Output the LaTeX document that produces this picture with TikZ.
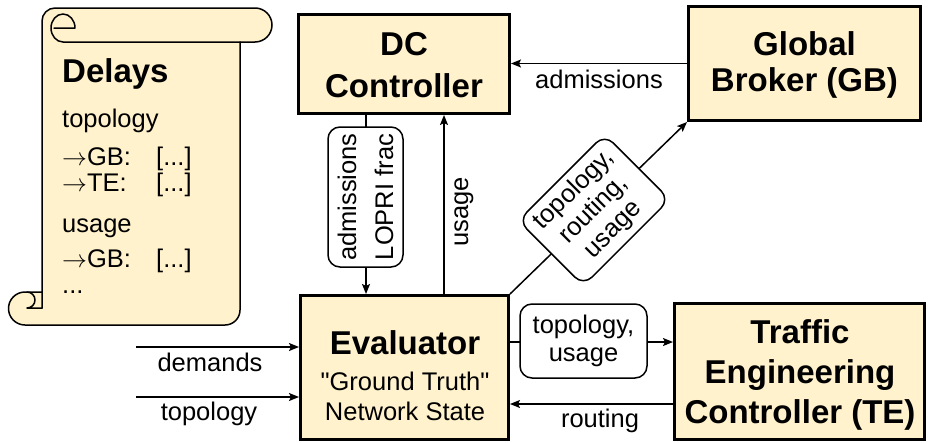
\documentclass[tikz,border=0pt]{standalone}
\usepackage{fontspec}
\setmainfont{Liberation Sans}
\newfontfamily\plainsans{Liberation Sans}
\usetikzlibrary{arrows.meta}
\definecolor{boxfill}{HTML}{FFF2CC}
\newcommand{\myarr}{\kern1pt$\rightarrow$}
\tikzset{
  big/.style={draw, line width=3pt, fill=boxfill, inner sep=0pt},
  ttl/.style={font=\fontsize{33}{38}\selectfont\bfseries, anchor=base, inner sep=0pt},
  txt/.style={font=\fontsize{25.5}{30}\selectfont, anchor=base, inner sep=0pt},
  conn/.style={line width=1.5pt, -{Stealth[length=10pt,width=8pt,inset=2pt]}},
  lbl/.style={draw, line width=1.5pt, fill=white, rounded corners=12pt, align=center, inner sep=0pt},
  scrollline/.style={line width=1.5pt, line join=round, line cap=round},
}
\begin{document}
\begin{tikzpicture}[x=1pt,y=-1pt]
\useasboundingbox (0,0) rectangle (928,442);

% ---------- scroll ----------
\fill[boxfill] (42,292) -- (42,21) arc[start angle=180, end angle=270, radius=13]
  -- (255,8) arc[start angle=270, end angle=450, radius=17]
  -- (240,42) -- (240,310) arc[start angle=0, end angle=90, radius=15]
  -- (25,325) arc[start angle=90, end angle=270, radius=16.5] -- cycle;
\draw[scrollline] (42,308) -- (42,21) arc[start angle=180, end angle=270, radius=13]
  -- (255,8) arc[start angle=270, end angle=450, radius=17]
  -- (240,42) -- (240,310) arc[start angle=0, end angle=90, radius=15]
  -- (25,325) arc[start angle=90, end angle=270, radius=16.5] -- (42,292);
\draw[scrollline] (54,28) -- (75,28) arc[start angle=0, end angle=-270, x radius=12, y radius=14] -- (240,42);
\draw[scrollline] (27,292) arc[start angle=270, end angle=450, radius=8] -- (42,308);

\node[ttl, anchor=base west] (dtitle) at (62,82) {Delays};
\node[txt, anchor=base west] (d1) at (62,127) {topology};
\node[txt, anchor=base west] (d2) at (61,165) {\myarr GB:};
\node[txt, anchor=base west] (d2b) at (156,165) {[...]};
\node[txt, anchor=base west] (d3) at (61,191) {\myarr TE:};
\node[txt, anchor=base west] (d3b) at (156,191) {[...]};
\node[txt, anchor=base west] (d4) at (62,232) {usage};
\node[txt, anchor=base west] (d5) at (61,267) {\myarr GB:};
\node[txt, anchor=base west] (d5b) at (156,267) {[...]};
\node[txt, anchor=base west] (d6) at (62,293) {...};

% ---------- boxes ----------
\node[big, minimum width=211pt, minimum height=99pt] (dc) at (404,64) {};
\node[big, minimum width=232pt, minimum height=114pt] (gb) at (804.5,63.5) {};
\node[big, minimum width=208pt, minimum height=144pt] (ev) at (404.5,367.5) {};
\node[big, minimum width=250pt, minimum height=136pt] (te) at (799.5,371.5) {};

\node[ttl] (dct1) at (404,55) {DC};
\node[ttl] (dct2) at (404,97) {Controller};
\node[ttl] (gbt1) at (804.5,55) {Global};
\node[ttl] (gbt2) at (804.5,91) {Broker (GB)};
\node[ttl] (evt1) at (405,354) {Evaluator};
\node[txt] (evt2) at (405,390) {\plainsans "Ground Truth"};
\node[txt] (evt3) at (405,420) {Network State};
\node[ttl] (tet1) at (800,343) {Traffic};
\node[ttl] (tet2) at (800,383) {Engineering};
\node[ttl] (tet3) at (800,423) {Controller (TE)};

% ---------- helper coordinates ----------
\coordinate (cx1) at (366,0);
\coordinate (cx2) at (444,0);
\coordinate (cy1) at (0,342);
\coordinate (cy2) at (0,404);
\coordinate (din) at (136,347);
\coordinate (tin) at (136,397);

% ---------- connectors ----------
\draw[conn] (gb.west) -- (gb.west -| dc.east);
\node[txt] (ladm) at (599,88) {admissions};

\draw[conn] (dc.south -| cx1) -- (ev.north -| cx1);
\node[lbl, rotate=90, minimum width=140pt, minimum height=75pt,
  font=\fontsize{25.5}{37}\selectfont] (ldc) at (365.5,197) {admissions\\LOPRI frac};

\draw[conn] (ev.north -| cx2) -- (dc.south -| cx2);
\node[txt, rotate=90] (lusage) at (468,212) {usage};

\draw[conn] (ev.north east) -- (gb.south west);
\node[lbl, rotate=45, minimum width=122pt, minimum height=92pt,
  font=\fontsize{25.5}{28}\selectfont] (ldiag) at (594,210) {topology,\\routing,\\usage};

\draw[conn] (ev.east |- cy1) -- (te.west |- cy1);
\node[lbl, minimum width=127pt, minimum height=74pt,
  font=\fontsize{25.5}{28}\selectfont] (lte) at (583.5,341) {topology,\\usage};

\draw[conn] (te.west |- cy2) -- (ev.east |- cy2);
\node[txt] (lrout) at (600,427) {routing};

\draw[conn] (din) -- (ev.west |- din);
\node[txt] (ldem) at (210,371) {demands};
\draw[conn] (tin) -- (ev.west |- tin);
\node[txt] (ltop) at (209,420) {topology};
\end{tikzpicture}
\end{document}
